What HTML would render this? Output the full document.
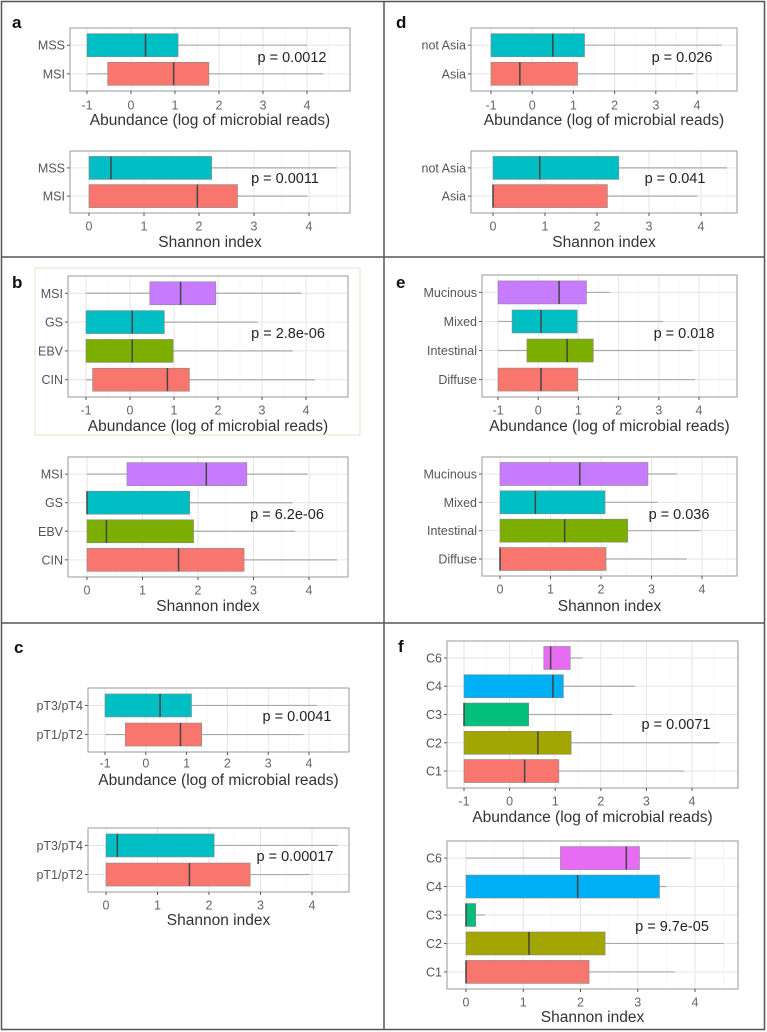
<!DOCTYPE html>
<html><head><meta charset="utf-8">
<style>
html,body{margin:0;padding:0;background:#fff;}
svg{display:block;font-family:"Liberation Sans",Arial,sans-serif;}
</style></head>
<body>
<svg id="fig" width="767" height="1032" viewBox="0 0 767 1032" xmlns="http://www.w3.org/2000/svg">
  <rect x="0" y="0" width="767" height="1032" fill="#fff"/>
  <rect x="1.5" y="1.5" width="763" height="1028" fill="none" stroke="#555" stroke-width="1.5"/>
  <line x1="384" y1="1" x2="384" y2="1030" stroke="#555" stroke-width="1.5"/>
  <line x1="1" y1="257" x2="384" y2="257" stroke="#555" stroke-width="1.5"/>
  <line x1="384" y1="257" x2="765" y2="257" stroke="#555" stroke-width="1.5"/>
  <line x1="1" y1="623" x2="384" y2="623" stroke="#555" stroke-width="1.5"/>
  <line x1="384" y1="623" x2="765" y2="623" stroke="#555" stroke-width="1.5"/>
  <rect x="35" y="268" width="325" height="167" fill="none" stroke="#f6dcc8" stroke-width="1"/>
  <text x="12" y="28" font-size="17" font-weight="bold" fill="#111">a</text>
  <text x="12" y="288" font-size="17" font-weight="bold" fill="#111">b</text>
  <text x="14" y="653" font-size="17" font-weight="bold" fill="#111">c</text>
  <text x="396" y="28" font-size="17" font-weight="bold" fill="#111">d</text>
  <text x="396" y="288" font-size="17" font-weight="bold" fill="#111">e</text>
  <text x="398" y="652" font-size="17" font-weight="bold" fill="#111">f</text>
</svg>
<script>
// ---------- data ----------
const abTicks = [-1,0,1,2,3,4];
const shTicks = [0,1,2,3,4];

const aAb_cats=["MSS","MSI"], aAb_lo=[-1,-1], aAb_q1=[-1,-0.53], aAb_med=[0.33,0.97], aAb_q3=[1.07,1.77], aAb_hi=[4.0,4.37];
const aSh_cats=["MSS","MSI"], aSh_lo=[0,0], aSh_q1=[0,0], aSh_med=[0.4,1.97], aSh_q3=[2.23,2.7], aSh_hi=[4.5,3.97];

const bAb_cats=["MSI","GS","EBV","CIN"], bAb_lo=[-1,-1,-1,-1], bAb_q1=[0.45,-1,-1,-0.85], bAb_med=[1.15,0.05,0.05,0.85], bAb_q3=[1.95,0.78,0.98,1.35], bAb_hi=[3.9,2.9,3.7,4.2];
const bSh_cats=["MSI","GS","EBV","CIN"], bSh_lo=[0,0,0,0], bSh_q1=[0.72,0,0,0], bSh_med=[2.15,0,0.35,1.65], bSh_q3=[2.88,1.85,1.92,2.83], bSh_hi=[3.97,3.7,3.75,4.5];

const cAb_cats=["pT3/pT4","pT1/pT2"], cAb_lo=[-1,-1], cAb_q1=[-1,-0.5], cAb_med=[0.35,0.85], cAb_q3=[1.12,1.37], cAb_hi=[4.2,3.87];
const cSh_cats=["pT3/pT4","pT1/pT2"], cSh_lo=[0,0], cSh_q1=[0,0], cSh_med=[0.22,1.62], cSh_q3=[2.1,2.8], cSh_hi=[4.5,3.97];

const dAb_cats=["not Asia","Asia"], dAb_lo=[-1,-1], dAb_q1=[-1,-1], dAb_med=[0.5,-0.3], dAb_q3=[1.27,1.1], dAb_hi=[4.6,3.9];
const dSh_cats=["not Asia","Asia"], dSh_lo=[0,0], dSh_q1=[0,0], dSh_med=[0.9,0], dSh_q3=[2.42,2.2], dSh_hi=[4.5,3.93];

const eAb_cats=["Mucinous","Mixed","Intestinal","Diffuse"], eAb_lo=[-1,-1,-1,-1], eAb_q1=[-1,-0.65,-0.28,-1], eAb_med=[0.52,0.07,0.72,0.07], eAb_q3=[1.2,0.97,1.37,0.98], eAb_hi=[1.78,3.1,3.85,3.9];
const eSh_cats=["Mucinous","Mixed","Intestinal","Diffuse"], eSh_lo=[0,0,0,0], eSh_q1=[0,0,0,0], eSh_med=[1.58,0.7,1.28,0], eSh_q3=[2.93,2.08,2.53,2.1], eSh_hi=[3.5,3.12,3.97,3.7];

const fAb_cats=["C6","C4","C3","C2","C1"], fAb_lo=[0.75,-1,-1,-1,-1], fAb_q1=[0.75,-1,-1,-1,-1], fAb_med=[0.9,0.95,-1,0.62,0.33], fAb_q3=[1.33,1.18,0.42,1.35,1.08], fAb_hi=[1.6,2.75,2.25,4.6,3.83];
const fSh_cats=["C6","C4","C3","C2","C1"], fSh_lo=[0,0,0,0,0], fSh_q1=[1.65,0,0,0,0], fSh_med=[2.8,1.95,0,1.1,0], fSh_q3=[3.03,3.38,0.17,2.43,2.15], fSh_hi=[3.92,3.5,0.33,4.5,3.65];

const pTexts=["p = 0.0012","p = 0.0011","p = 2.8e-06","p = 6.2e-06","p = 0.0041","p = 0.00017","p = 0.026","p = 0.041","p = 0.018","p = 0.036","p = 0.0071","p = 9.7e-05"];
const abTitle="Abundance (log of microbial reads)", shTitle="Shannon index";

const RED="#F8766D", CYAN="#00BFC4", PURP="#C77CFF", GRN="#7CAE00";
// ---------- layout ----------
const plots=[
 {id:"a-abundance",cats:aAb_cats,lo:aAb_lo,q1:aAb_q1,med:aAb_med,q3:aAb_q3,hi:aAb_hi,ticks:abTicks,title:abTitle,p:pTexts[0],px:292,py:62,x0:70,x1:350,y0:28,y1:91,v1:-1,p1:87,v2:4,p2:307,colors:[CYAN,RED],tickY:109,titleY:125},
 {id:"a-shannon",cats:aSh_cats,lo:aSh_lo,q1:aSh_q1,med:aSh_med,q3:aSh_q3,hi:aSh_hi,ticks:shTicks,title:shTitle,p:pTexts[1],px:285,py:183,x0:70,x1:350,y0:151,y1:213,v1:0,p1:89,v2:4,p2:309,colors:[CYAN,RED],tickY:230,titleY:247},
 {id:"b-abundance",cats:bAb_cats,lo:bAb_lo,q1:bAb_q1,med:bAb_med,q3:bAb_q3,hi:bAb_hi,ticks:abTicks,title:abTitle,p:pTexts[2],px:288,py:338,x0:68,x1:348,y0:276,y1:397,v1:-1,p1:86,v2:4,p2:306,colors:[PURP,CYAN,GRN,RED],tickY:414,titleY:431},
 {id:"b-shannon",cats:bSh_cats,lo:bSh_lo,q1:bSh_q1,med:bSh_med,q3:bSh_q3,hi:bSh_hi,ticks:shTicks,title:shTitle,p:pTexts[3],px:287,py:519,x0:68,x1:348,y0:457,y1:577,v1:0,p1:87,v2:4,p2:309,colors:[PURP,CYAN,GRN,RED],tickY:594,titleY:611},
 {id:"c-abundance",cats:cAb_cats,lo:cAb_lo,q1:cAb_q1,med:cAb_med,q3:cAb_q3,hi:cAb_hi,ticks:abTicks,title:abTitle,p:pTexts[4],px:297,py:721,x0:88,x1:349,y0:688,y1:752,v1:-1,p1:105,v2:4,p2:309,colors:[CYAN,RED],tickY:767,titleY:785},
 {id:"c-shannon",cats:cSh_cats,lo:cSh_lo,q1:cSh_q1,med:cSh_med,q3:cSh_q3,hi:cSh_hi,ticks:shTicks,title:shTitle,p:pTexts[5],px:295,py:861,x0:88,x1:349,y0:828,y1:892,v1:0,p1:106,v2:4,p2:312,colors:[CYAN,RED],tickY:909,titleY:925},
 {id:"d-abundance",cats:dAb_cats,lo:dAb_lo,q1:dAb_q1,med:dAb_med,q3:dAb_q3,hi:dAb_hi,ticks:abTicks,title:abTitle,p:pTexts[6],px:682,py:62,x0:471,x1:737,y0:28,y1:91,v1:-1,p1:491,v2:4,p2:697,colors:[CYAN,RED],tickY:109,titleY:125},
 {id:"d-shannon",cats:dSh_cats,lo:dSh_lo,q1:dSh_q1,med:dSh_med,q3:dSh_q3,hi:dSh_hi,ticks:shTicks,title:shTitle,p:pTexts[7],px:675,py:183,x0:471,x1:737,y0:151,y1:213,v1:0,p1:493,v2:4,p2:701,colors:[CYAN,RED],tickY:230,titleY:247},
 {id:"e-abundance",cats:eAb_cats,lo:eAb_lo,q1:eAb_q1,med:eAb_med,q3:eAb_q3,hi:eAb_hi,ticks:abTicks,title:abTitle,p:pTexts[8],px:684,py:338,x0:482,x1:737,y0:275,y1:397,v1:-1,p1:498,v2:4,p2:699,colors:[PURP,CYAN,GRN,RED],tickY:414,titleY:431},
 {id:"e-shannon",cats:eSh_cats,lo:eSh_lo,q1:eSh_q1,med:eSh_med,q3:eSh_q3,hi:eSh_hi,ticks:shTicks,title:shTitle,p:pTexts[9],px:679,py:519,x0:482,x1:737,y0:457,y1:576,v1:0,p1:500,v2:4,p2:702,colors:[PURP,CYAN,GRN,RED],tickY:593,titleY:611},
 {id:"f-abundance",cats:fAb_cats,lo:fAb_lo,q1:fAb_q1,med:fAb_med,q3:fAb_q3,hi:fAb_hi,ticks:abTicks,title:abTitle,p:pTexts[10],px:676,py:729,x0:447,x1:738,y0:641,y1:788,v1:-1,p1:464,v2:4,p2:692,colors:["#E76BF3","#00B0F6","#00BF7D","#A3A500",RED],tickY:805,titleY:822},
 {id:"f-shannon",cats:fSh_cats,lo:fSh_lo,q1:fSh_q1,med:fSh_med,q3:fSh_q3,hi:fSh_hi,ticks:shTicks,title:shTitle,p:pTexts[11],px:672,py:931,x0:447,x1:738,y0:841,y1:989,v1:0,p1:466,v2:4,p2:695,colors:["#E76BF3","#00B0F6","#00BF7D","#A3A500",RED],tickY:1006,titleY:1022}
];
const NS="http://www.w3.org/2000/svg";
const svg=document.getElementById("fig");
function mk(tag,attrs,parent){const e=document.createElementNS(NS,tag);for(const k in attrs)e.setAttribute(k,attrs[k]);(parent||svg).appendChild(e);return e;}

plots.forEach(P=>{
  const g=mk("g",{});
  
  
  const k=(P.p2-P.p1)/(P.v2-P.v1);
  const xs=v=>P.p1+(v-P.v1)*k;
  const n=P.cats.length;
  const step=(P.y1-P.y0)/(n+0.2);
  const ys=i=>P.y0+step*(i+0.6);
  const hh=11.5;
  mk("rect",{x:P.x0,y:P.y0,width:P.x1-P.x0,height:P.y1-P.y0,fill:"#fff"},g);
  const vmin=P.v1-(P.p1-P.x0)/k, vmax=P.v1+(P.x1-P.p1)/k;
  for(let v=Math.ceil(vmin*2)/2; v<=vmax; v+=0.5){
    const major=Math.abs(v-Math.round(v))<1e-6;
    mk("line",{x1:xs(v),x2:xs(v),y1:P.y0,y2:P.y1,stroke:major?"#e6e6e6":"#f3f3f3","stroke-width":major?1:0.7},g);
  }
  for(let i=0;i<n;i++) mk("line",{x1:P.x0,x2:P.x1,y1:ys(i),y2:ys(i),stroke:"#e6e6e6","stroke-width":1},g);
  for(let i=0;i<n;i++){
    const y=ys(i);
    const b=mk("g",{},g);
    
    
    mk("line",{x1:xs(P.lo[i]),x2:xs(P.q1[i]),y1:y,y2:y,stroke:"#aaa","stroke-width":1.2},b);
    mk("line",{x1:xs(P.q3[i]),x2:xs(P.hi[i]),y1:y,y2:y,stroke:"#aaa","stroke-width":1.2},b);
    mk("rect",{x:xs(P.q1[i]),y:y-hh,width:xs(P.q3[i])-xs(P.q1[i]),height:2*hh,fill:P.colors[i],stroke:"#888","stroke-width":0.6},b);
    mk("line",{x1:xs(P.med[i]),x2:xs(P.med[i]),y1:y-hh,y2:y+hh,stroke:"#444","stroke-width":1.5},b);
    mk("line",{x1:P.x0-3,x2:P.x0,y1:y,y2:y,stroke:"#555","stroke-width":1},g);
    const t=mk("text",{x:P.x0-5,y:y+4.5,"font-size":12.5,fill:"#555","text-anchor":"end"},g);
    t.textContent=P.cats[i];
    
    
  }
  mk("rect",{x:P.x0,y:P.y0,width:P.x1-P.x0,height:P.y1-P.y0,fill:"none",stroke:"#999","stroke-width":1},g);
  P.ticks.forEach(v=>{
    mk("line",{x1:xs(v),x2:xs(v),y1:P.y1,y2:P.y1+3,stroke:"#555","stroke-width":1},g);
    const t=mk("text",{x:xs(v),y:P.tickY+0.5,"font-size":12.5,fill:"#666","text-anchor":"middle"},g);
    t.textContent=String(v);
    
    
  });
  const tt=mk("text",{x:(P.x0+P.x1)/2,y:P.titleY,"font-size":15.5,fill:"#333","text-anchor":"middle"},g);
  tt.textContent=P.title;
  
  
  const pt=mk("text",{x:P.px,y:P.py,"font-size":14.5,fill:"#222","text-anchor":"middle"},g);
  pt.textContent=P.p;
  
  
});
</script>
</body></html>
